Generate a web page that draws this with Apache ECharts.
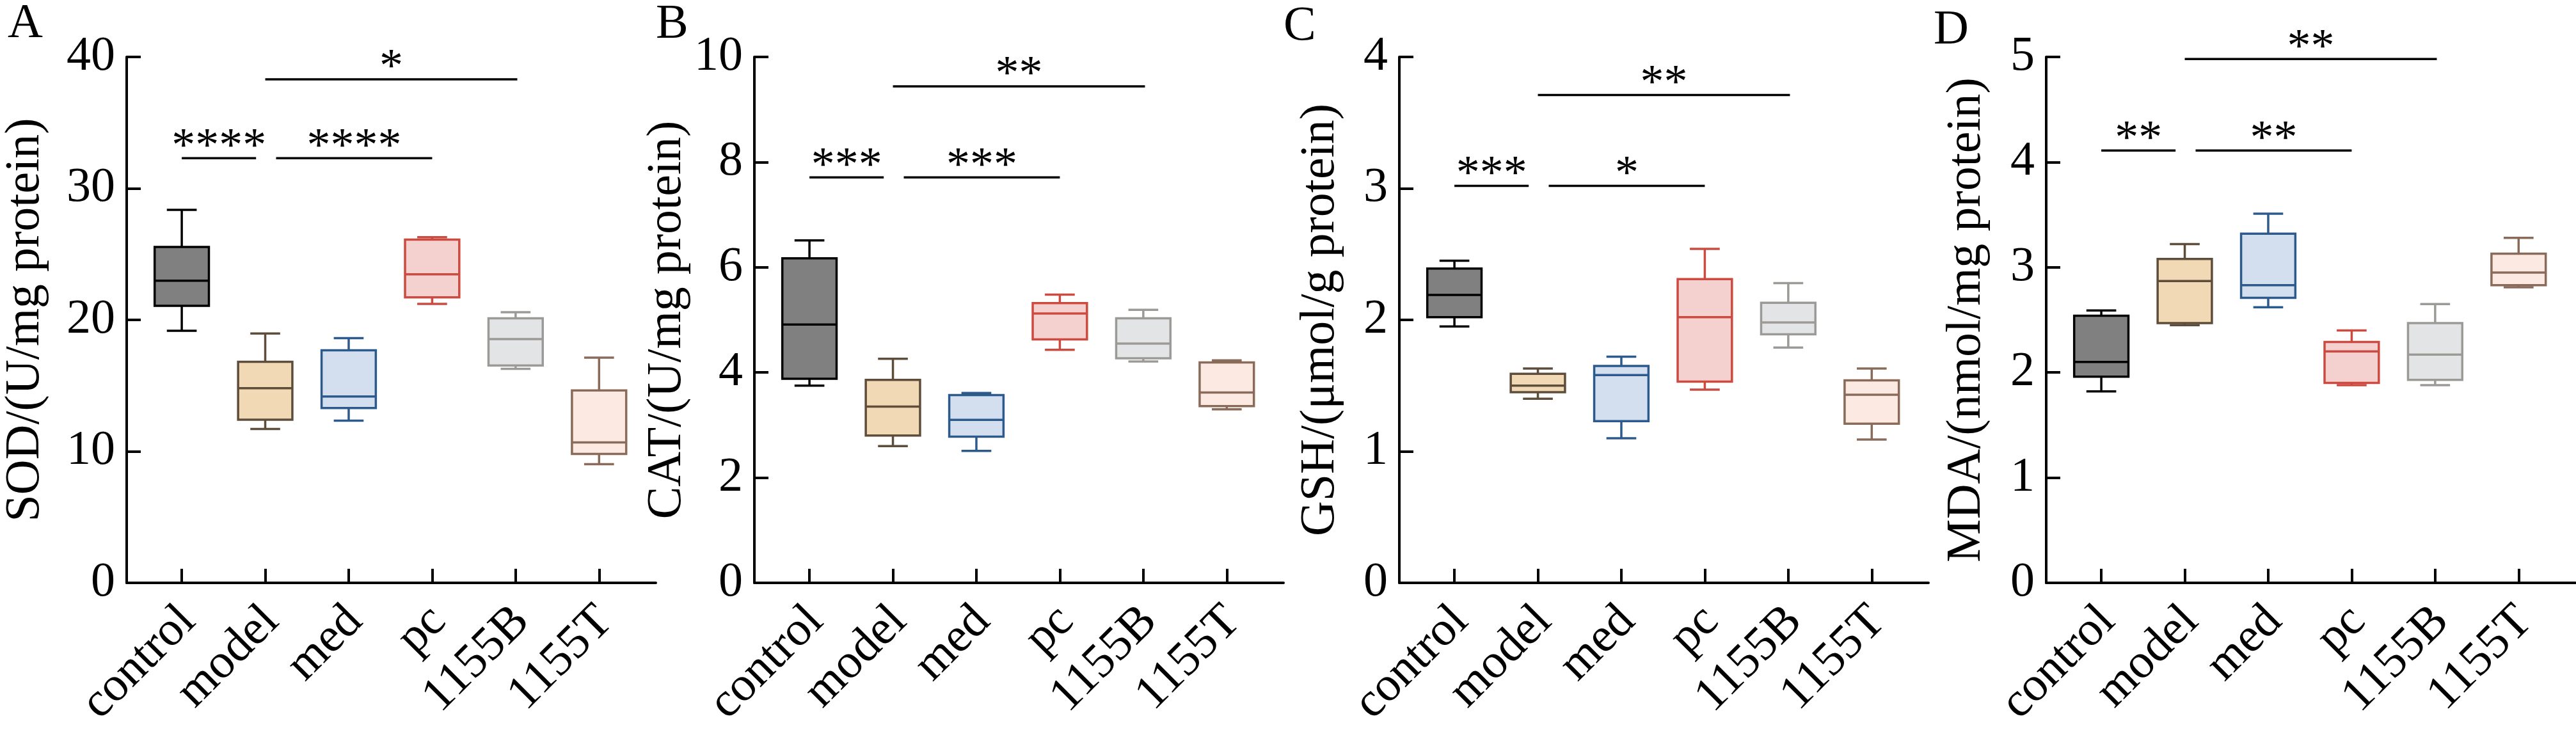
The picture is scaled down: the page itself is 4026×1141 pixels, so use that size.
<!DOCTYPE html>
<html>
<head>
<meta charset="utf-8">
<title>Oxidative stress markers</title>
<script src="https://cdn.jsdelivr.net/npm/echarts@6/dist/echarts.min.js"></script>
<style>
  html, body { margin: 0; padding: 0; background: #fff; }
  #chart { width: 4026px; height: 1141px; }
</style>
</head>
<body>
<div id="chart"></div>
<script>
// groups on the x axis
const groups = ['control', 'model', 'med', 'pc', '1155B', '1155T'];

// five-number summaries per group: [min, Q1, median, Q3, max]
const sodStats = [
    [19.17, 21.07, 22.98, 25.55, 28.37],
    [11.70, 12.41, 14.80, 16.81, 18.96],
    [12.33, 13.29, 14.17, 17.69, 18.61],
    [21.22, 21.71, 23.47, 26.11, 26.29],
    [16.28, 16.53, 18.54, 20.12, 20.58],
    [9.02, 9.80, 10.68, 14.63, 17.13]
];
const catStats = [
    [3.75, 3.88, 4.91, 6.17, 6.51],
    [2.60, 2.80, 3.35, 3.86, 4.26],
    [2.51, 2.78, 3.10, 3.57, 3.61],
    [4.43, 4.63, 5.12, 5.32, 5.48],
    [4.21, 4.27, 4.55, 5.03, 5.19],
    [3.30, 3.36, 3.62, 4.19, 4.23]
];
const gshStats = [
    [1.95, 2.02, 2.19, 2.39, 2.45],
    [1.40, 1.45, 1.50, 1.59, 1.63],
    [1.10, 1.23, 1.58, 1.65, 1.72],
    [1.47, 1.53, 2.02, 2.31, 2.54],
    [1.79, 1.89, 1.98, 2.13, 2.28],
    [1.09, 1.21, 1.43, 1.54, 1.63]
];
const mdaStats = [
    [1.82, 1.96, 2.10, 2.54, 2.59],
    [2.45, 2.47, 2.87, 3.08, 3.22],
    [2.62, 2.71, 2.83, 3.32, 3.51],
    [1.88, 1.90, 2.20, 2.29, 2.40],
    [1.88, 1.93, 2.17, 2.47, 2.65],
    [2.81, 2.83, 2.95, 3.13, 3.28]
];

// significance bars: [from group, to group, height, stars]
const sodSig = [[1, 1.89, 32.3, '****'], [2.13, 4.0, 32.3, '****'], [2, 5.02, 38.3, '*']];
const catSig = [[1, 1.89, 7.71, '***'], [2.13, 4.0, 7.71, '***'], [2, 5.02, 9.44, '**']];
const gshSig = [[1, 1.89, 3.02, '***'], [2.13, 4.0, 3.02, '*'], [2, 5.02, 3.71, '**']];
const mdaSig = [[1, 1.89, 4.11, '**'], [2.13, 4.0, 4.11, '**'], [2, 5.02, 4.98, '**']];

// axis scales
const yMax = [40, 10, 4, 5];
const yStep = [10, 2, 1, 1];
const yNames = ['SOD/(U/mg protein)', 'CAT/(U/mg protein)', 'GSH/(μmol/g protein)', 'MDA/(nmol/mg protein)'];
const letters = ['A', 'B', 'C', 'D'];

// colours per group
const boxFill = ['#808080', '#F2D9B5', '#D3DFEE', '#F4D0CE', '#E2E4E5', '#FBE9E2'];
const boxStroke = ['#000000', '#5E4D3B', '#2C5A8C', '#CC4A40', '#9C9A97', '#8A6A59'];

const FONT = '"Liberation Serif", "Times New Roman", serif';
const panelLeft = [198, 1179, 2187, 3198];
const letterLeft = [12, 1025, 2006, 3022];
const letterTop = [0, 1, 4, 10];
const nameGaps = [120, 87, 85, 86];
const allStats = [sodStats, catStats, gshStats, mdaStats];
const allSig = [sodSig, catSig, gshSig, mdaSig];
const tickPos = [1, 2, 3, 4, 5, 6];

// box + whiskers (caps about half the box width), like the Prism style
function renderBox(params, api) {
    const i = params.dataIndex;
    const x = api.value(0);
    const lo = api.coord([x, api.value(1)]);
    const q1 = api.coord([x, api.value(2)]);
    const md = api.coord([x, api.value(3)]);
    const q3 = api.coord([x, api.value(4)]);
    const hi = api.coord([x, api.value(5)]);
    const bw = api.size([0.65, 0])[0];
    const cw = bw * 0.55;
    const cx = lo[0];
    const ls = { stroke: boxStroke[i], lineWidth: 3.5, fill: null };
    return {
        type: 'group',
        children: [
            { type: 'line', shape: { x1: cx, y1: q3[1], x2: cx, y2: hi[1] }, style: ls },
            { type: 'line', shape: { x1: cx - cw / 2, y1: hi[1], x2: cx + cw / 2, y2: hi[1] }, style: ls },
            { type: 'line', shape: { x1: cx, y1: q1[1], x2: cx, y2: lo[1] }, style: ls },
            { type: 'line', shape: { x1: cx - cw / 2, y1: lo[1], x2: cx + cw / 2, y2: lo[1] }, style: ls },
            {
                type: 'rect',
                shape: { x: cx - bw / 2, y: q3[1], width: bw, height: q1[1] - q3[1] },
                style: { fill: boxFill[i], stroke: boxStroke[i], lineWidth: 3.5 }
            },
            { type: 'line', shape: { x1: cx - bw / 2, y1: md[1], x2: cx + bw / 2, y2: md[1] }, style: ls }
        ]
    };
}

// significance bar with stars on top
function sigRenderer(sig) {
    return function (params, api) {
        const s = sig[params.dataIndex];
        const p1 = api.coord([s[0], s[2]]);
        const p2 = api.coord([s[1], s[2]]);
        return {
            type: 'group',
            children: [
                { type: 'line', shape: { x1: p1[0], y1: p1[1], x2: p2[0], y2: p2[1] },
                  style: { stroke: '#000', lineWidth: 3.5 } },
                { type: 'text', x: (p1[0] + p2[0]) / 2, y: p1[1] - 16,
                  style: { text: s[3], fill: '#000', font: '74px ' + FONT, align: 'center', verticalAlign: 'middle' } }
            ]
        };
    };
}

const grids = [], xAxes = [], yAxes = [], series = [], titles = [];
for (let k = 0; k < 4; k++) {
    grids.push({ left: panelLeft[k], top: 89, width: 827, height: 829 });
    titles.push({
        text: letters[k], left: letterLeft[k], top: letterTop[k], padding: 0,
        textStyle: { fontFamily: FONT, fontSize: 76, fontWeight: 'normal', color: '#000' }
    });
    xAxes.push({
        type: 'value', gridIndex: k, min: 0.34, max: 6.68,
        axisLine: { lineStyle: { color: '#000', width: 4 } },
        axisTick: { inside: true, length: 22, lineStyle: { color: '#000', width: 4 }, customValues: tickPos },
        axisLabel: {
            customValues: tickPos, rotate: 45, align: 'right', verticalAlign: 'top', margin: 5,
            padding: [0, 24, 0, 0],
            fontFamily: FONT, fontSize: 76, color: '#000',
            formatter: v => groups[Math.round(v) - 1]
        },
        splitLine: { show: false }
    });
    yAxes.push({
        type: 'value', gridIndex: k, min: 0, max: yMax[k], interval: yStep[k],
        name: yNames[k], nameLocation: 'middle', nameGap: nameGaps[k],
        nameTextStyle: { fontFamily: FONT, fontSize: 76, color: '#000' },
        axisLine: { show: true, lineStyle: { color: '#000', width: 4 } },
        axisTick: { show: true, inside: true, length: 22, lineStyle: { color: '#000', width: 4 } },
        axisLabel: { margin: 18, padding: [0, 0, 24, 0], fontFamily: FONT, fontSize: 76, color: '#000' },
        splitLine: { show: false }
    });
    series.push({
        type: 'custom', xAxisIndex: k, yAxisIndex: k,
        renderItem: renderBox,
        encode: { x: 0, y: [1, 2, 3, 4, 5] },
        data: allStats[k].map((s, i) => [i + 1].concat(s)),
        silent: true
    });
    series.push({
        type: 'custom', xAxisIndex: k, yAxisIndex: k,
        renderItem: sigRenderer(allSig[k]),
        encode: { x: [0, 1], y: 2 },
        data: allSig[k].map(s => [s[0], s[1], s[2]]),
        silent: true
    });
}

const chart = echarts.init(document.getElementById('chart'));
chart.setOption({
    backgroundColor: '#fff',
    animation: false,
    title: titles,
    grid: grids,
    xAxis: xAxes,
    yAxis: yAxes,
    series: series
});
</script>
</body>
</html>
